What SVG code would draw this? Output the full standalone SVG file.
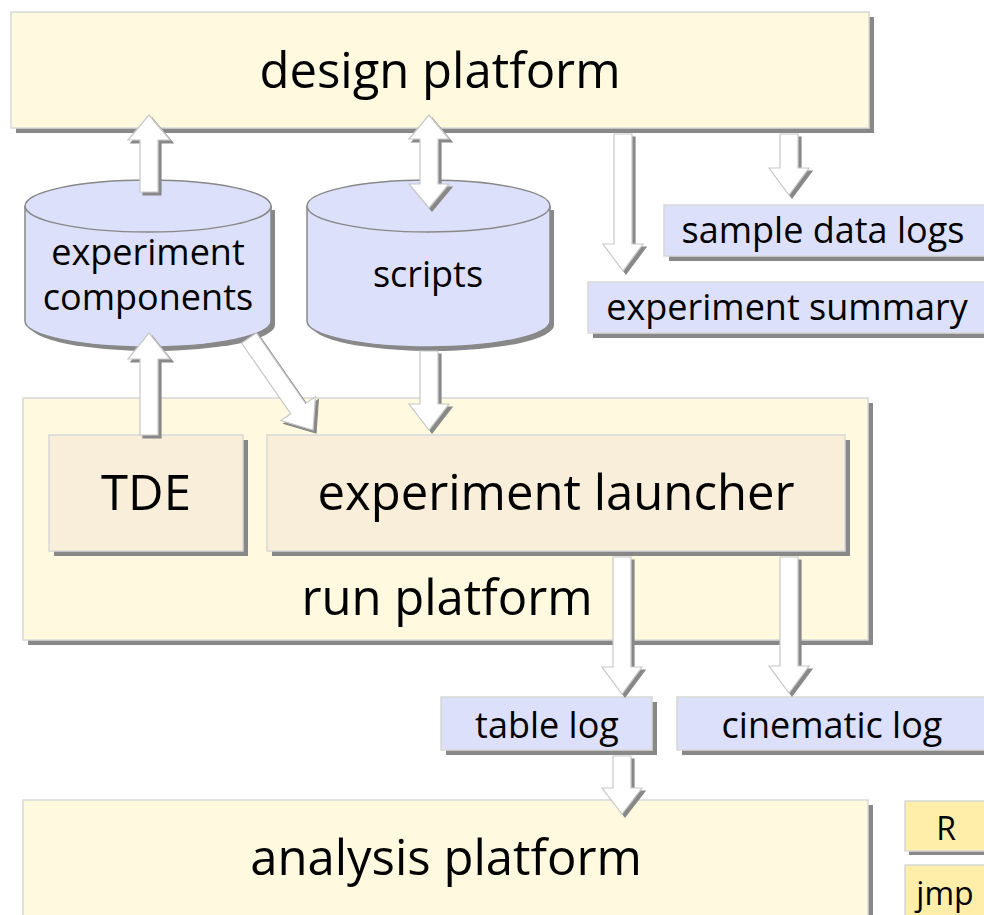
<svg xmlns="http://www.w3.org/2000/svg" width="984" height="915" viewBox="0 0 984 915">
<style>
  text { font-family: "Open Sans", "Noto Sans", "DejaVu Sans", sans-serif; fill: #000; text-anchor: middle; }
  .big { font-size: 49px; }
  .med { font-size: 36px; }
  .sm { font-size: 32px; }
  .sh { fill: #888; }
  .plat { fill: #FFFADF; stroke: #D8D8D8; stroke-width: 1.5; }
  .inner { fill: #F8EED9; stroke: #D8D8D8; stroke-width: 1.5; }
  .log { fill: #DDE0FA; stroke: #D8D8D8; stroke-width: 1.5; }
  .tool { fill: #FFEEAA; stroke: #D8D8D8; stroke-width: 1.5; }
  .cyl { fill: #DDE0FA; stroke: #888; stroke-width: 1.5; }
  .arrow { fill: #fff; stroke: #C8C8C8; stroke-width: 1.2; filter: url(#ash); }
</style>
<defs>
  <filter id="ash" x="-50%" y="-50%" width="200%" height="200%">
    <feDropShadow dx="3" dy="3" stdDeviation="0" flood-color="#888" flood-opacity="1"/>
  </filter>
</defs>
<rect width="984" height="915" fill="#fff"/>

<g id="design-platform">
  <rect class="sh" x="16" y="17" width="858" height="116"/>
  <rect class="plat" x="11" y="12" width="858" height="116"/>
  <text class="big" x="440" y="88">design platform</text>
</g>

<g id="run-platform">
  <rect class="sh" x="28" y="403" width="845" height="242"/>
  <rect class="plat" x="23" y="398" width="845" height="242"/>
  <text class="big" x="447" y="615">run platform</text>
</g>

<g id="analysis-platform">
  <rect class="sh" x="28" y="805" width="845" height="130"/>
  <rect class="plat" x="23" y="800" width="845" height="130"/>
  <text class="big" x="446" y="875">analysis platform</text>
</g>

<g id="tde">
  <rect class="sh" x="54" y="440" width="194" height="116"/>
  <rect class="inner" x="49" y="435" width="194" height="116"/>
  <text class="big" x="146" y="510">TDE</text>
</g>

<g id="experiment-launcher">
  <rect class="sh" x="272" y="440" width="578" height="116"/>
  <rect class="inner" x="267" y="435" width="578" height="116"/>
  <text class="big" x="556" y="510">experiment launcher</text>
</g>

<g id="experiment-components">
  <path class="sh" d="M29,210 L29,325 A123,26 0 0 0 275,325 L275,210 Z"/>
  <path class="cyl" d="M25,206 L25,321 A123,26 0 0 0 271,321 L271,206"/>
  <ellipse class="cyl" cx="148" cy="206" rx="123" ry="26"/>
  <text class="med" x="148" y="265">experiment</text>
  <text class="med" x="148" y="310">components</text>
</g>

<g id="scripts">
  <path class="sh" d="M311,210 L311,325 A121.5,26 0 0 0 554,325 L554,210 Z"/>
  <path class="cyl" d="M307,206 L307,321 A121.5,26 0 0 0 550,321 L550,206"/>
  <ellipse class="cyl" cx="428.5" cy="206" rx="121.5" ry="26"/>
  <text class="med" x="428" y="287">scripts</text>
</g>

<g id="sample-data-logs">
  <rect class="sh" x="669" y="210" width="330" height="51"/>
  <rect class="log" x="664" y="205" width="330" height="51"/>
  <text class="med" x="823" y="243">sample data logs</text>
</g>

<g id="experiment-summary">
  <rect class="sh" x="593" y="287" width="410" height="51"/>
  <rect class="log" x="588" y="282" width="410" height="51"/>
  <text class="med" x="787" y="320">experiment summary</text>
</g>

<g id="table-log">
  <rect class="sh" x="446" y="702" width="211" height="53"/>
  <rect class="log" x="441" y="697" width="211" height="53"/>
  <text class="med" x="547" y="738">table log</text>
</g>

<g id="cinematic-log">
  <rect class="sh" x="682" y="702" width="320" height="53"/>
  <rect class="log" x="677" y="697" width="320" height="53"/>
  <text class="med" x="832" y="738">cinematic log</text>
</g>

<g id="r">
  <rect class="sh" x="909" y="805" width="90" height="50"/>
  <rect class="tool" x="905" y="801" width="90" height="50"/>
  <text class="sm" x="946" y="840">R</text>
</g>

<g id="jmp">
  <rect class="sh" x="909" y="869" width="90" height="60"/>
  <rect class="tool" x="905" y="865" width="90" height="60"/>
  <text class="sm" x="945" y="905">jmp</text>
</g>

<g id="connectors">
  <!-- experiment components -> design platform -->
  <path class="arrow" d="M140,192 L158,192 L158,140 L170,140 L149,115 L128,140 L140,140 Z"/>
  <!-- TDE -> experiment components -->
  <path class="arrow" d="M140,435 L158,435 L158,359 L170,359 L149,333 L128,359 L140,359 Z"/>
  <!-- design platform <-> scripts -->
  <path class="arrow" d="M429,115 L449,139 L438,139 L438,184 L449,184 L429,208 L409,184 L420,184 L420,139 L409,139 Z"/>
  <!-- scripts -> experiment launcher -->
  <path class="arrow" d="M420,351 L438,351 L438,404 L449,404 L429,430 L409,404 L420,404 Z"/>
  <!-- experiment components -> experiment launcher -->
  <path class="arrow" d="M256.4,332.9 L305.5,403.5 L315.4,396.7 L313,430 L280.9,420.6 L290.8,413.8 L241.6,343.1 Z"/>
  <!-- design platform -> experiment summary -->
  <path class="arrow" d="M614,134 L632,134 L632,244 L643,244 L623,271 L603,244 L614,244 Z"/>
  <!-- design platform -> sample data logs -->
  <path class="arrow" d="M780,134 L798,134 L798,168 L809,168 L789,195 L769,168 L780,168 Z"/>
  <!-- experiment launcher -> table log -->
  <path class="arrow" d="M613,557 L631,557 L631,667 L642,667 L622,694 L602,667 L613,667 Z"/>
  <!-- experiment launcher -> cinematic log -->
  <path class="arrow" d="M780,557 L798,557 L798,666 L809,666 L789,693 L769,666 L780,666 Z"/>
  <!-- table log -> analysis platform -->
  <path class="arrow" d="M613,756 L631,756 L631,788 L642,788 L622,814 L602,788 L613,788 Z"/>
</g>
</svg>
